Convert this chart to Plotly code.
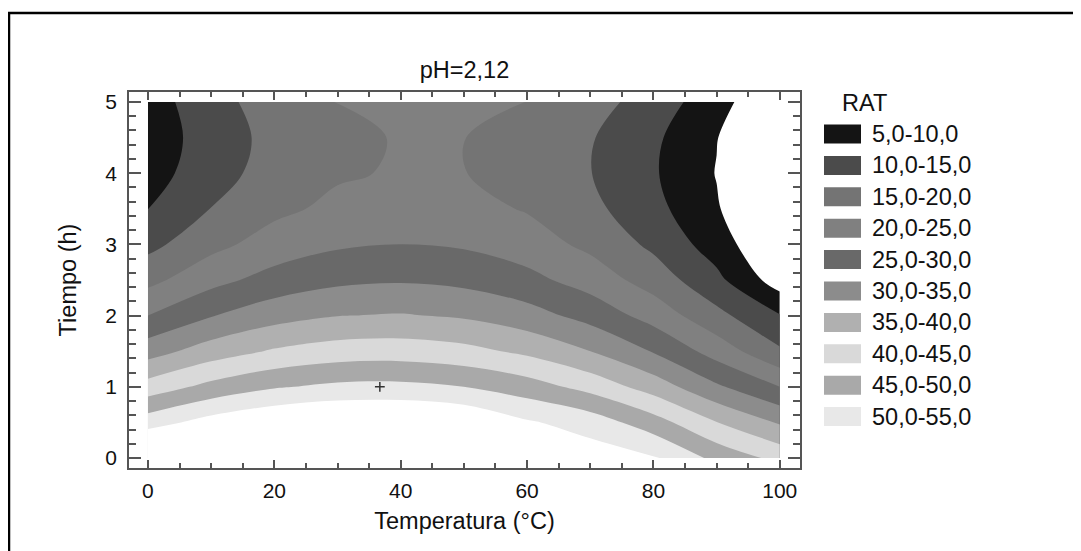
import plotly.graph_objects as go

# ---- data ----
temps = [0, 10, 20, 30, 40, 50, 60, 70, 80, 90, 100]          # Temperatura (°C)
times = [0, 0.5, 1, 1.5, 2, 2.5, 3, 3.5, 4, 4.5, 5]          # Tiempo (h)
# RAT values (rows = times, columns = temps)
rat_t0_0 = [64.84, 68.95, 71.65, 72.93, 72.79, 71.24, 68.27, 57.70, 55.70, 48.60, 43.50]
rat_t0_5 = [52.77, 57.03, 59.87, 61.30, 61.31, 59.91, 55.60, 52.85, 47.20, 40.14, 34.50]
rat_t1_0 = [42.10, 46.51, 49.51, 51.08, 51.24, 49.99, 47.32, 43.23, 37.73, 30.81, 25.00]
rat_t1_5 = [32.85, 37.41, 40.55, 42.28, 42.59, 41.48, 38.96, 35.02, 29.67, 22.90, 15.70]
rat_t2_0 = [25.01, 29.72, 33.01, 34.88, 35.34, 34.38, 32.01, 28.22, 23.02, 16.40, 10.30]
rat_t2_5 = [18.58, 23.43, 26.87, 28.90, 29.50, 28.70, 26.47, 22.83, 17.78, 11.30, 2.50]
rat_t3_0 = [13.56, 18.56, 22.15, 24.32, 25.08, 24.42, 22.35, 18.85, 13.95, 7.62, -0.50]
rat_t3_5 = [9.95, 15.10, 18.84, 21.16, 22.07, 21.56, 19.63, 16.29, 11.53, 5.50, -2.24]
rat_t4_0 = [7.75, 13.05, 16.94, 19.41, 20.46, 20.10, 18.32, 15.13, 10.52, 4.80, -2.95]
rat_t4_5 = [6.97, 12.42, 16.45, 19.07, 20.27, 20.06, 18.43, 15.38, 10.92, 5.20, -2.25]
rat_t5_0 = [7.59, 13.19, 17.37, 20.14, 21.49, 21.43, 19.95, 17.05, 12.74, 7.01, -0.14]
rat = [rat_t0_0, rat_t0_5, rat_t1_0, rat_t1_5, rat_t2_0, rat_t2_5,
       rat_t3_0, rat_t3_5, rat_t4_0, rat_t4_5, rat_t5_0]

level_labels = ["5,0-10,0", "10,0-15,0", "15,0-20,0", "20,0-25,0", "25,0-30,0",
                "30,0-35,0", "35,0-40,0", "40,0-45,0", "45,0-50,0", "50,0-55,0"]
level_colors = ["#141414", "#4b4b4b", "#747474", "#808080", "#696969",
                "#8c8c8c", "#b0b0b0", "#d9d9d9", "#a9a9a9", "#e8e8e8"]

point_T = [36.7]
point_t = [1.0]

# ---- figure ----
FONT = "Liberation Sans, Arial, sans-serif"
OFF = 8                       # page body margin of the html page
W, H = 1081 - OFF, 551 - OFF
# plot frame, in screen pixels
L, R, T, B = 129, 800, 92, 468

# discrete colorscale: below 5 white, each band its colour, above 55 white
all_cols = ["#ffffff"] + level_colors + ["#ffffff"]
n = len(all_cols) - 1
colorscale = [[i / n, c] for i, c in enumerate(all_cols)]

fig = go.Figure()
fig.add_trace(go.Contour(
    x=temps, y=times, z=rat,
    autocontour=False,
    contours=dict(start=5, end=55, size=5, coloring="fill", showlines=False),
    line=dict(width=0),
    colorscale=colorscale,
    showscale=False,
    hoverinfo="skip",
))
fig.add_trace(go.Scatter(
    x=point_T, y=point_t, mode="markers",
    marker=dict(symbol="cross-thin", size=7, line=dict(width=1.5, color="#333333")),
    hoverinfo="skip", showlegend=False,
))

def px_x(p):
    return (p - L) / (R - L)

def px_y(p):
    return (B - p) / (B - T)

shapes = []
annotations = []
# outer black border (top and left edges visible)
shapes.append(dict(type="rect", xref="paper", yref="paper",
                   x0=px_x(9), x1=px_x(1095), y0=px_y(570), y1=px_y(13),
                   line=dict(color="black", width=2.5), fillcolor="rgba(0,0,0,0)"))
# legend
annotations.append(dict(xref="paper", yref="paper", x=px_x(840), y=px_y(103),
                        xanchor="left", yanchor="middle", showarrow=False,
                        text="RAT", font=dict(family=FONT, size=23.5, color="#111")))
for i, (lab, col) in enumerate(zip(level_labels, level_colors)):
    cy = 134 + 31.4 * i
    shapes.append(dict(type="rect", xref="paper", yref="paper",
                       x0=px_x(824), x1=px_x(861), y0=px_y(cy + 9.5), y1=px_y(cy - 9.5),
                       line=dict(width=0), fillcolor=col))
    annotations.append(dict(xref="paper", yref="paper", x=px_x(870), y=px_y(cy),
                            xanchor="left", yanchor="middle", showarrow=False,
                            text=lab, font=dict(family=FONT, size=23.5, color="#111")))

axis_common = dict(
    showline=True, linecolor="#555", linewidth=1.5, mirror="ticks",
    ticks="inside", tickcolor="#555", tickwidth=1.5,
    showgrid=False, zeroline=False,
    tickfont=dict(family=FONT, size=21, color="#111"),
)

fig.update_layout(
    width=W, height=H, autosize=False,
    margin=dict(l=L - OFF, r=W - (R - OFF), t=T - OFF, b=H - (B - OFF), pad=0),
    paper_bgcolor="white", plot_bgcolor="white",
    showlegend=False,
    title=dict(text="pH=2,12", x=0.5, xref="paper", xanchor="center",
               y=1 - (70 - OFF) / H, yref="container", yanchor="middle",
               font=dict(family=FONT, size=23.5, color="#111")),
    xaxis=dict(range=[-3.0, 103.2], tick0=0, dtick=20, ticklen=8,
               ticklabelstandoff=3,
               minor=dict(ticks="inside", tick0=0, dtick=5, ticklen=5,
                          tickcolor="#555", tickwidth=1.5, showgrid=False),
               title=dict(text="Temperatura (°C)", standoff=12,
                          font=dict(family=FONT, size=23.5, color="#111")),
               **axis_common),
    yaxis=dict(range=[-0.14, 5.14], tick0=0, dtick=1, ticklen=12,
               ticklabelstandoff=6,
               minor=dict(ticks="inside", tick0=0, dtick=0.2, ticklen=7,
                          tickcolor="#555", tickwidth=1.5, showgrid=False),
               title=dict(text="Tiempo (h)", standoff=22,
                          font=dict(family=FONT, size=23.5, color="#111")),
               **axis_common),
    shapes=shapes,
    annotations=annotations,
)

fig.write_html("out.html")
